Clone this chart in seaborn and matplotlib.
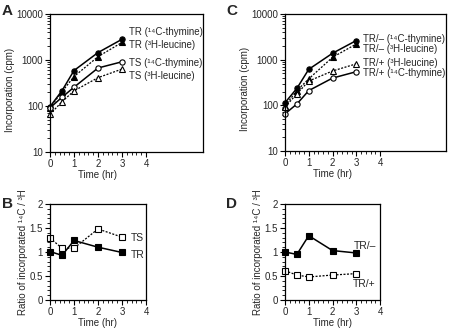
import numpy as np
import pandas as pd
import seaborn as sns
import matplotlib
matplotlib.use("Agg")
import matplotlib.pyplot as plt
from matplotlib.ticker import FixedLocator, FixedFormatter, MultipleLocator, LogLocator, NullFormatter

# time points (hr)
time = [0, 0.5, 1, 2, 3]

# panel A: incorporation (cpm)
a_tr_thy = [97, 215, 590, 1450, 2820]
a_tr_leu = [91, 205, 436, 1180, 2410]
a_ts_thy = [91, 155, 256, 670, 915]
a_ts_leu = [66, 124, 213, 413, 635]

# panel C: incorporation (cpm)
c_trm_thy = [114, 235, 615, 1380, 2620]
c_trm_leu = [98, 210, 380, 1125, 2200]
c_trp_leu = [92, 178, 340, 565, 810]
c_trp_thy = [65, 107, 210, 395, 545]

# panel B / D: ratio 14C / 3H
b_tr = [1.01, 0.93, 1.24, 1.10, 0.99]
b_ts = [1.29, 1.08, 1.08, 1.48, 1.31]
d_trm = [1.00, 0.95, 1.34, 1.03, 0.98]
d_trp = [0.61, 0.52, 0.48, 0.52, 0.55]

sns.set_theme(style="ticks")
plt.rcParams['font.family'] = ['Liberation Sans', 'DejaVu Sans']

FS = 7
SOLID = '-'
DOT = (0, (1.6, 1.2))


def draw(ax, y, marker, filled, ls, ms=3.8):
    sns.lineplot(x=time, y=y, ax=ax, color='black', marker=marker, linestyle=ls,
                 linewidth=1.1 if ls == SOLID else 0.9, markersize=ms,
                 markerfacecolor='black' if filled else 'white',
                 markeredgecolor='black', markeredgewidth=0.8)


def style_axes(ax, xmax):
    ax.set_xlim(0, xmax)
    ax.xaxis.set_major_locator(FixedLocator([0, 1, 2, 3, 4]))
    ax.xaxis.set_minor_locator(FixedLocator(list(np.arange(0, 4.01, 0.2))))
    ax.set_xlabel('Time (hr)', fontsize=FS, x=2 / xmax, labelpad=1)
    for s in ax.spines.values():
        s.set_linewidth(0.9)
        s.set_color('black')
    ax.tick_params(axis='both', which='major', direction='out', length=3.5, width=0.8,
                   labelsize=FS, pad=1.5, color='black')
    ax.tick_params(axis='both', which='minor', direction='out', length=2, width=0.6,
                   color='black')


def log_axes(ax, xmax):
    ax.set_yscale('log')
    ax.set_ylim(10, 10000)
    ax.yaxis.set_major_locator(FixedLocator([10, 100, 1000, 10000]))
    ax.yaxis.set_major_formatter(FixedFormatter(['10', '100', '1000', '10000']))
    ax.yaxis.set_minor_locator(LogLocator(base=10, subs=np.arange(2, 10)))
    ax.yaxis.set_minor_formatter(NullFormatter())
    ax.set_ylabel('Incorporation (cpm)', fontsize=FS, labelpad=0.5, y=0.45)
    style_axes(ax, xmax)


def ratio_axes(ax):
    ax.set_ylim(0, 2)
    ax.yaxis.set_major_locator(FixedLocator([0, 0.5, 1, 1.5, 2]))
    ax.yaxis.set_major_formatter(FixedFormatter(['0', '0.5', '1', '1.5', '2']))
    ax.yaxis.set_minor_locator(MultipleLocator(0.1))
    ax.set_ylabel('Ratio of incorporated ¹⁴C / ³H', fontsize=FS, labelpad=1)
    style_axes(ax, 4)


fig = plt.figure(figsize=(4.5, 3.3), dpi=100)
axA = fig.add_axes([50 / 450, 1 - 152 / 330, 153 / 450, 138 / 330])
axC = fig.add_axes([285 / 450, 1 - 151 / 330, 161 / 450, 137 / 330])
axB = fig.add_axes([50 / 450, 1 - 300 / 330, 96 / 450, 96 / 330])
axD = fig.add_axes([285 / 450, 1 - 300 / 330, 95 / 450, 96 / 330])

LFS = 7

# A
draw(axA, a_tr_thy, 'o', True, SOLID)
draw(axA, a_tr_leu, '^', True, DOT)
draw(axA, a_ts_thy, 'o', False, SOLID)
draw(axA, a_ts_leu, '^', False, DOT)
log_axes(axA, 153 / 24)
for txt, yv in [('TR (¹⁴C-thymine)', 4070), ('TR (³H-leucine)', 2130),
                ('TS (¹⁴C-thymine)', 860), ('TS (³H-leucine)', 445)]:
    axA.text(3.3, yv, txt, fontsize=LFS, va='center', ha='left')

# C
draw(axC, c_trm_thy, 'o', True, SOLID)
draw(axC, c_trm_leu, '^', True, DOT)
draw(axC, c_trp_leu, '^', False, DOT)
draw(axC, c_trp_thy, 'o', False, SOLID)
log_axes(axC, 161 / 23.75)
for txt, yv in [('TR/– (¹⁴C-thymine)', 2870), ('TR/– (³H-leucine)', 1740),
                ('TR/+ (³H-leucine)', 860), ('TR/+ (¹⁴C-thymine)', 500)]:
    axC.text(3.28, yv, txt, fontsize=LFS, va='center', ha='left')

# B
draw(axB, b_tr, 's', True, SOLID, ms=4.2)
draw(axB, b_ts, 's', False, DOT, ms=4.2)
ratio_axes(axB)
axB.text(3.36, 1.29, 'TS', fontsize=FS + 0.5, va='center', ha='left', clip_on=False)
axB.text(3.36, 0.94, 'TR', fontsize=FS + 0.5, va='center', ha='left', clip_on=False)

# D
draw(axD, d_trm, 's', True, SOLID, ms=4.2)
draw(axD, d_trp, 's', False, DOT, ms=4.2)
ratio_axes(axD)
axD.text(2.9, 1.13, 'TR/–', fontsize=FS + 0.5, va='center', ha='left', clip_on=False)
axD.text(2.86, 0.33, 'TR/+', fontsize=FS + 0.5, va='center', ha='left', clip_on=False)

for ax in (axA, axB, axC, axD):
    for ln in ax.lines:
        ln.set_clip_on(False)

for lab, x, y in [('A', 2, 4), ('C', 226, 4), ('B', 2, 197), ('D', 226, 197)]:
    fig.text(x / 450, 1 - y / 330, lab, fontsize=11, fontweight='bold', va='top', ha='left')

fig.savefig('out.png', dpi=100)
